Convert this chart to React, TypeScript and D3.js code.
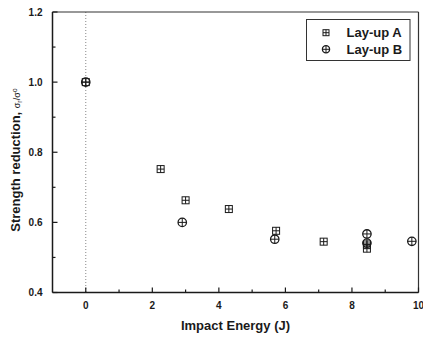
import React from "react";
import * as d3 from "d3";

const layupAEnergy = [0, 2.25, 3.0, 4.3, 5.72, 7.15, 8.45, 8.45];
const layupAStrength = [1.0, 0.752, 0.663, 0.638, 0.576, 0.545, 0.537, 0.525];
const layupBEnergy = [0, 2.9, 5.68, 8.45, 8.45, 9.8];
const layupBStrength = [1.0, 0.6, 0.552, 0.567, 0.541, 0.546];
const xTicks = [0, 2, 4, 6, 8, 10];
const xMinor = [1, 3, 5, 7, 9];
const yTicks = [0.4, 0.6, 0.8, 1.0, 1.2];
const yMinor = [0.5, 0.7, 0.9, 1.1];
const legendLabels = ["Lay-up A", "Lay-up B"];

const W = 423;
const H = 337;
const L = 52.5, R = 418.5, T = 12, B = 292.5;
const FONT = "'Liberation Sans', Arial, Helvetica, sans-serif";
const INK = "#1a1a1a";

const SquarePlus = ({ cx, cy, s = 7 }: { cx: number; cy: number; s?: number }) => (
  <g stroke={INK} strokeWidth={1} fill="none">
    <rect x={cx - s / 2} y={cy - s / 2} width={s} height={s} />
    <line x1={cx - s / 2} x2={cx + s / 2} y1={cy} y2={cy} />
    <line x1={cx} x2={cx} y1={cy - s / 2} y2={cy + s / 2} />
  </g>
);

const CirclePlus = ({ cx, cy, r = 4.2 }: { cx: number; cy: number; r?: number }) => (
  <g stroke={INK} strokeWidth={1.3} fill="none">
    <circle cx={cx} cy={cy} r={r} />
    <line x1={cx - r} x2={cx + r} y1={cy} y2={cy} strokeWidth={1} />
    <line x1={cx} x2={cx} y1={cy - r} y2={cy + r} strokeWidth={1} />
  </g>
);

export default function App() {
  const x = d3.scaleLinear().domain([-1, 10]).range([L, R]);
  const y = d3.scaleLinear().domain([0.4, 1.2]).range([B, T]);
  const fmt = d3.format(".1f");

  return (
    <svg
      width={W}
      height={H}
      style={{ position: "absolute", left: 0, top: 0, background: "#fff" }}
      fontFamily={FONT}
    >
      <rect x={0} y={0} width={W} height={H} fill="#fff" />
      {/* dotted zero line */}
      <line
        x1={x(0)}
        x2={x(0)}
        y1={T}
        y2={B}
        stroke="#888"
        strokeWidth={1}
        strokeDasharray="1,2"
      />
      {/* frame */}
      <line x1={L} x2={R} y1={T} y2={T} stroke="#333" strokeWidth={1.2} />
      <line x1={R} x2={R} y1={T} y2={B} stroke="#333" strokeWidth={1.2} />
      <line x1={L} x2={L} y1={T} y2={B} stroke={INK} strokeWidth={1.5} />
      <line x1={L} x2={R} y1={B} y2={B} stroke={INK} strokeWidth={1.5} />

      {/* y ticks */}
      {yTicks.map((t) => (
        <g key={"yt" + t}>
          <line x1={L} x2={L + 5} y1={y(t)} y2={y(t)} stroke={INK} strokeWidth={1.2} />
          <text
            x={L - 10}
            y={y(t)}
            dy="0.35em"
            textAnchor="end"
            fontSize={10}
            fontWeight="bold"
            fill={INK}
          >
            {fmt(t)}
          </text>
        </g>
      ))}
      {yMinor.map((t) => (
        <line key={"ym" + t} x1={L} x2={L + 3} y1={y(t)} y2={y(t)} stroke={INK} strokeWidth={1.2} />
      ))}

      {/* x ticks */}
      {xTicks.map((t) => (
        <g key={"xt" + t}>
          <line x1={x(t)} x2={x(t)} y1={B} y2={B - 5} stroke={INK} strokeWidth={1.2} />
          <text
            x={x(t)}
            y={B + 16}
            textAnchor="middle"
            fontSize={10}
            fontWeight="bold"
            fill={INK}
          >
            {t}
          </text>
        </g>
      ))}
      {xMinor.map((t) => (
        <line key={"xm" + t} x1={x(t)} x2={x(t)} y1={B} y2={B - 3} stroke={INK} strokeWidth={1.2} />
      ))}

      {/* axis titles */}
      <text
        x={(L + R) / 2}
        y={330}
        textAnchor="middle"
        fontSize={13}
        fontWeight="bold"
        fill={INK}
      >
        Impact Energy (J)
      </text>
      <text
        transform={`translate(20,160) rotate(-90)`}
        textAnchor="middle"
        fontSize={13}
        fontWeight="bold"
        fill={INK}
      >
        Strength reduction,{" "}
        <tspan fontSize={9} fontWeight="normal">σ</tspan>
        <tspan fontSize={7} fontWeight="normal" dy={2}>r</tspan>
        <tspan fontSize={9} fontWeight="normal" dy={-2}>/σ</tspan>
        <tspan fontSize={7} fontWeight="normal" dy={-3}>o</tspan>
      </text>

      {/* data */}
      {layupAEnergy.map((e, i) => (
        <SquarePlus key={"a" + i} cx={x(e)} cy={y(layupAStrength[i])} />
      ))}
      {layupBEnergy.map((e, i) => (
        <CirclePlus key={"b" + i} cx={x(e)} cy={y(layupBStrength[i])} />
      ))}

      {/* legend */}
      <rect x={306.5} y={19.5} width={103.5} height={41} fill="#fff" stroke="#333" strokeWidth={1} />
      <SquarePlus cx={326} cy={32.7} s={6} />
      <CirclePlus cx={326} cy={49.3} r={3.6} />
      <text x={346.5} y={37.3} fontSize={13} fontWeight="bold" fill={INK}>
        {legendLabels[0]}
      </text>
      <text x={346.5} y={54} fontSize={13} fontWeight="bold" fill={INK}>
        {legendLabels[1]}
      </text>
    </svg>
  );
}
